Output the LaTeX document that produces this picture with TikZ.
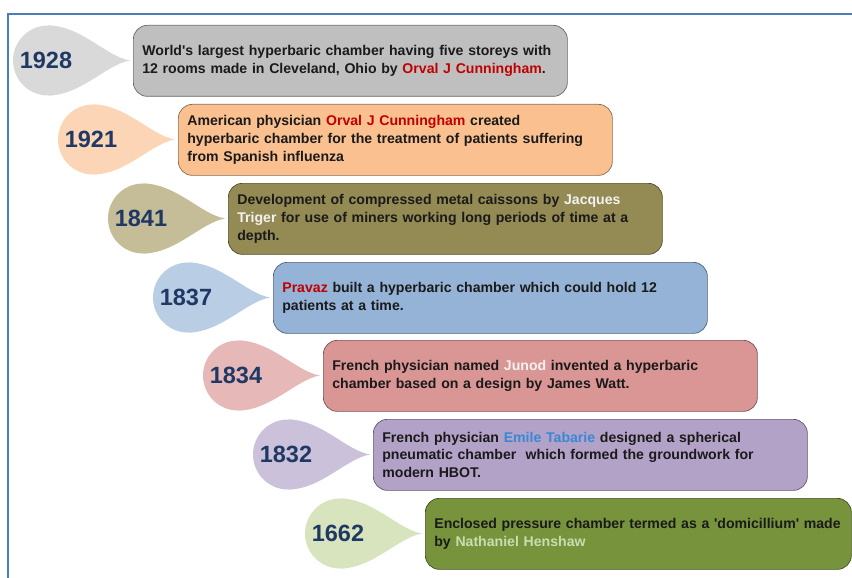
\documentclass[tikz,border=0pt]{standalone}
\usepackage{fontspec}
\setmainfont{Liberation Sans}
\begin{document}
\begin{tikzpicture}[x=1pt,y=-1pt,
  evbox/.style={draw=#1!55!black, line width=0.7pt, fill=#1, rounded corners=14pt,
    minimum width=432pt, minimum height=71pt, anchor=north west,
    text width=416pt, align=left, inner xsep=9pt, inner ysep=0pt,
    font=\fontsize{14.1}{17.8}\selectfont\bfseries, text=txt},
  yr/.style={font=\fontsize{23.5}{23.5}\selectfont\bfseries, text=navy},
]
\definecolor{txt}{HTML}{1A1A1A}
\definecolor{navy}{HTML}{1F3864}
\definecolor{frame}{HTML}{4A7EBB}
\definecolor{nred}{HTML}{C00000}
\definecolor{nwhite}{HTML}{F2F2F2}
\definecolor{nblue}{HTML}{3A87D4}
\definecolor{ngreen}{HTML}{C9DDB0}
\definecolor{c1}{HTML}{BFBFBF}\definecolor{d1}{HTML}{D9D9D9}
\definecolor{c2}{HTML}{FAC090}\definecolor{d2}{HTML}{FBD5B5}
\definecolor{c3}{HTML}{948A54}\definecolor{d3}{HTML}{C4BD97}
\definecolor{c4}{HTML}{95B3D7}\definecolor{d4}{HTML}{B9CDE5}
\definecolor{c5}{HTML}{D99694}\definecolor{d5}{HTML}{E6B9B8}
\definecolor{c6}{HTML}{B3A2C7}\definecolor{d6}{HTML}{CCC1DA}
\definecolor{c7}{HTML}{77933C}\definecolor{d7}{HTML}{D7E4BD}
\useasboundingbox (0,0) rectangle (852,578);
\draw[frame, line width=2pt] (852,14) -- (8,14) -- (8,578);
% teardrops: #1 cx, #2 cy, #3 colour
\newcommand\mydrop[3]{%
  \fill[#3] (#1,#2) circle (35);
  \fill[#3] (#1,#2-35) .. controls (#1+33,#2-35) and (#1+58,#2-4) .. (#1+82,#2)
     .. controls (#1+58,#2+4) and (#1+33,#2+35) .. (#1,#2+35) -- cycle;}
\foreach \i/\l/\t in {1/133/25, 2/178/104, 3/228/183, 4/273/262, 5/323/340, 6/373/419, 7/425/498}{
  \pgfmathsetmacro\cx{\l-85}\pgfmathsetmacro\cy{\t+35.5}
  \mydrop{\cx}{\cy}{d\i}
}
\node[yr] (y1) at (46,60.5) {1928};
\node[yr] (y2) at (91,139.5) {1921};
\node[yr] (y3) at (141,218.5) {1841};
\node[yr] (y4) at (186,297.5) {1837};
\node[yr] (y5) at (236,375.5) {1834};
\node[yr] (y6) at (286,454.5) {1832};
\node[yr] (y7) at (338,533.5) {1662};
\node[evbox=c1] (b1) at (133,25) {World\textquotesingle s largest hyperbaric chamber having five storeys with\\12 rooms made in Cleveland, Ohio by \textcolor{nred}{Orval J Cunningham}.};
\node[evbox=c2] (b2) at (178,104) {American physician \textcolor{nred}{Orval J Cunningham} created\\hyperbaric chamber for the treatment of patients suffering\\from Spanish influenza};
\node[evbox=c3] (b3) at (228,183) {Development of compressed metal caissons by \textcolor{nwhite}{Jacques}\\\textcolor{nwhite}{Triger} for use of miners working long periods of time at a\\depth.};
\node[evbox=c4] (b4) at (273,262) {\textcolor{nred}{Pravaz} built a hyperbaric chamber which could hold 12\\patients at a time.};
\node[evbox=c5] (b5) at (323,340) {French physician named \textcolor{nwhite}{Junod} invented a hyperbaric\\chamber based on a design by James Watt.};
\node[evbox=c6] (b6) at (373,419) {French physician \textcolor{nblue}{Emile Tabarie} designed a spherical\\pneumatic chamber \ which formed the groundwork for\\modern HBOT.};
\node[evbox=c7, minimum width=424pt, text width=408pt] (b7) at (425,498) {Enclosed pressure chamber termed as a \textquotesingle domicillium\textquotesingle\ made\\by \textcolor{ngreen}{Nathaniel Henshaw}};
\end{tikzpicture}
\end{document}
